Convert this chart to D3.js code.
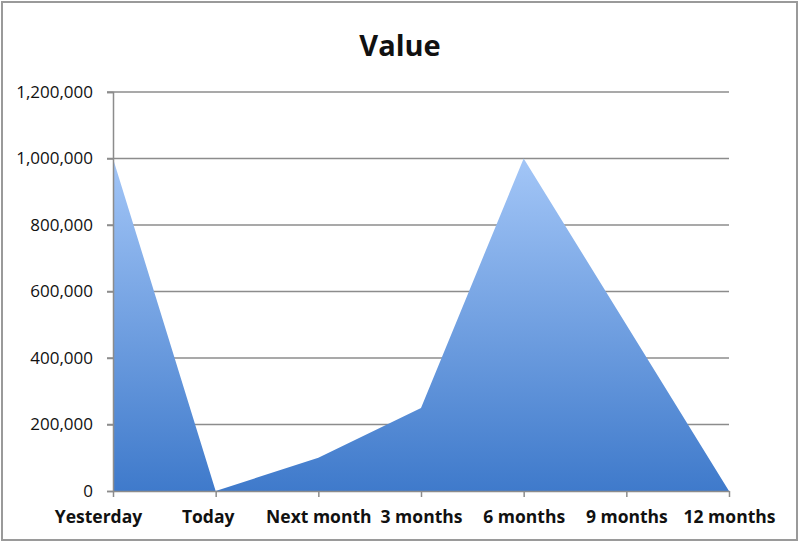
<!DOCTYPE html>
<html><head><meta charset="utf-8">
<script src="https://cdn.jsdelivr.net/npm/d3@7"></script>
<style>body{margin:0;background:#fff}svg{display:block}</style>
</head><body>
<svg id="c" width="800" height="543"></svg>
<script>
const categories = ["Yesterday","Today","Next month","3 months","6 months","9 months","12 months"];
const values = [1000000, 0, 100000, 250000, 1000000, 500000, 0];
const yTicks = [0,200000,400000,600000,800000,1000000,1200000];
const title = "Value";

const svg = d3.select("#c");
const W=800,H=543;
const m={left:113,right:71,top:92,bottom:52};
const x = d3.scalePoint().domain(categories).range([m.left, W-m.right]);
const y = d3.scaleLinear().domain([0,1200000]).range([H-m.bottom, m.top]);

svg.append("rect").attr("x",2).attr("y",2).attr("width",W-5).attr("height",H-5)
  .attr("fill","#fff").attr("stroke","#9a9a9a").attr("stroke-width",2);

const defs=svg.append("defs");
const g=defs.append("linearGradient").attr("id","gr").attr("gradientUnits","userSpaceOnUse")
  .attr("x1",0).attr("x2",0).attr("y1",y(d3.max(values))).attr("y2",y(0));
g.append("stop").attr("offset","0%").attr("stop-color","#a3c6f7");
g.append("stop").attr("offset","100%").attr("stop-color","#3f7acb");

// gridlines
svg.append("g").selectAll("line").data(yTicks.filter(d=>d>0)).join("line")
  .attr("x1",m.left-6).attr("x2",W-m.right).attr("y1",d=>y(d)).attr("y2",d=>y(d))
  .attr("stroke","#8c8c8c").attr("stroke-width",1.5);

const area=d3.area().x((d,i)=>x(categories[i])).y0(y(0)).y1(d=>y(d));
svg.append("path").datum(values).attr("d",area).attr("fill","url(#gr)");

// y axis
const ya=svg.append("g").attr("transform",`translate(${m.left},0)`)
  .call(d3.axisLeft(y).tickValues(yTicks).tickFormat(d3.format(",")).tickSize(6).tickPadding(14));
ya.select(".domain").attr("stroke","#8c8c8c").attr("stroke-width",1.5);
ya.selectAll(".tick line").attr("stroke","#8c8c8c").attr("stroke-width",1.5);
ya.selectAll("text").attr("font-family","Open Sans, sans-serif").attr("font-size",17).attr("fill","#111");

// x axis
const xa=svg.append("g").attr("transform",`translate(0,${y(0)})`)
  .call(d3.axisBottom(x).tickSize(6).tickPadding(14).tickSizeOuter(0));
xa.select(".domain").attr("stroke","#8c8c8c").attr("stroke-width",1.5);
xa.selectAll(".tick line").attr("stroke","#8c8c8c").attr("stroke-width",1.5);
xa.selectAll("text").attr("font-family","Open Sans, sans-serif").attr("font-size",17.5)
  .attr("font-weight","bold").attr("fill","#111")
  .attr("dx",(d,i)=>i===0?-15:(i===1?-8:0));

svg.append("text").attr("x",400).attr("y",56).attr("text-anchor","middle")
  .attr("font-family","Open Sans, sans-serif").attr("font-weight","bold").attr("font-size",29)
  .attr("fill","#111").text(title);
</script>
</body></html>
